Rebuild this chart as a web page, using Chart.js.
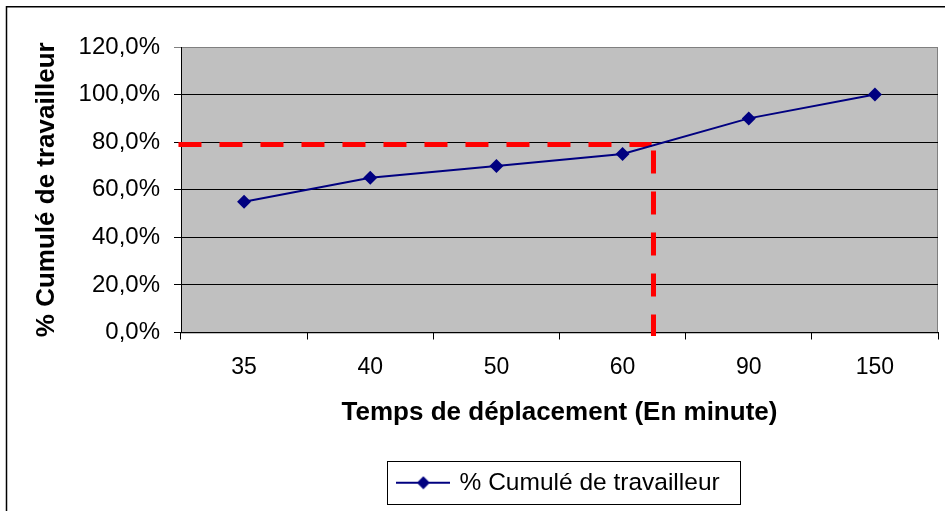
<!DOCTYPE html>
<html><head><meta charset="utf-8">
<script src="https://cdn.jsdelivr.net/npm/chart.js@4/dist/chart.umd.min.js"></script>
<style>html,body{margin:0;padding:0;background:#fff}#wrap{width:945px;height:511px}</style>
</head><body><div id="wrap"><canvas id="c" width="945" height="511"></canvas></div>
<script>
// ---- data ----
const categories = ['35', '40', '50', '60', '90', '150'];
const cumulativePct = [55, 65, 70, 75, 90, 100];
const yTickValues = [0, 20, 40, 60, 80, 100, 120];
const seriesLabel = '% Cumulé de travailleur';
const xAxisTitle = 'Temps de déplacement (En minute)';
const yAxisTitle = '% Cumulé de travailleur';
// red dashed reference lines (x in category units, y in %)
const refHorizontalX = [-0.52, 3.23];
const refHorizontalY = [79, 79];
const refVerticalX = [3.245, 3.245];
const refVerticalY = [76.5, -1.5];

const NAVY = '#000080';
const FONT = "'Liberation Sans', Arial, sans-serif";

// legend symbol: line with diamond
const sym = document.createElement('canvas');
sym.width = 54; sym.height = 14;
(function(){
  const g = sym.getContext('2d');
  g.strokeStyle = NAVY; g.lineWidth = 2;
  g.beginPath(); g.moveTo(0, 7); g.lineTo(54, 7); g.stroke();
  g.fillStyle = NAVY;
  g.beginPath(); g.moveTo(27, 0.5); g.lineTo(33.5, 7); g.lineTo(27, 13.5); g.lineTo(20.5, 7); g.closePath(); g.fill();
})();

const bgPlugin = {
  id: 'bg',
  beforeDraw(chart) {
    const ctx = chart.ctx, a = chart.chartArea;
    ctx.save();
    ctx.fillStyle = '#fff';
    ctx.fillRect(0, 0, chart.width, chart.height);
    ctx.strokeStyle = '#000'; ctx.lineWidth = 1.5;
    ctx.strokeRect(6.5, 6.75, chart.width + 10, chart.height + 10);
    ctx.fillStyle = '#C0C0C0';
    ctx.fillRect(a.left, a.top, a.right - a.left, a.bottom - a.top);
    ctx.strokeStyle = '#808080'; ctx.lineWidth = 1;
    ctx.strokeRect(a.left + 0.5, a.top + 0.5, a.right - a.left - 1, a.bottom - a.top);
    ctx.restore();
  },
  afterDraw(chart) {
    const hb = chart.legend && chart.legend.legendHitBoxes && chart.legend.legendHitBoxes[0];
    if (!hb) return;
    const ctx = chart.ctx;
    ctx.save();
    ctx.strokeStyle = '#000'; ctx.lineWidth = 1;
    const cy = hb.top + hb.height / 2;
    ctx.strokeRect(Math.round(hb.left - 12) + 0.5, Math.round(cy - 21.5) + 0.5, Math.round(hb.width + 33), 43);
    ctx.restore();
  }
};

new Chart(document.getElementById('c'), {
  type: 'line',
  data: {
    labels: categories,
    datasets: [
      {
        label: seriesLabel,
        data: cumulativePct,
        xAxisID: 'x', yAxisID: 'y',
        borderColor: NAVY, backgroundColor: NAVY,
        borderWidth: 2, tension: 0,
        pointStyle: 'rectRot', pointRadius: 7, pointBackgroundColor: NAVY, pointBorderColor: NAVY, pointBorderWidth: 0,
        order: 0
      },
      {
        label: 'refH',
        data: refHorizontalX.map((x, i) => ({x, y: refHorizontalY[i]})),
        xAxisID: 'xl', yAxisID: 'y',
        borderColor: '#FF0000', borderWidth: 5, borderDash: [23, 18], borderCapStyle: 'butt',
        pointRadius: 0, clip: false, order: 1
      },
      {
        label: 'refV',
        data: refVerticalX.map((x, i) => ({x, y: refVerticalY[i]})),
        xAxisID: 'xl', yAxisID: 'y',
        borderColor: '#FF0000', borderWidth: 5, borderDash: [23, 18], borderCapStyle: 'butt',
        pointRadius: 0, clip: false, order: 1
      }
    ]
  },
  options: {
    responsive: false, animation: false, devicePixelRatio: 1,
    layout: { padding: { top: 47, right: 7, left: 0, bottom: 6 } },
    plugins: {
      tooltip: { enabled: false },
      legend: {
        position: 'bottom', fullSize: false,
        labels: {
          filter: item => item.datasetIndex === 0,
          usePointStyle: true, pointStyle: sym, pointStyleWidth: 48,
          font: { family: FONT, size: 24.5 }, color: '#000', padding: 10
        }
      }
    },
    scales: {
      x: {
        type: 'category', offset: true,
        grid: { offset: true, drawOnChartArea: false, drawTicks: true, tickLength: 7, color: '#000' },
        border: { color: '#000', width: 1 },
        ticks: { font: { family: FONT, size: 23 }, color: '#000', padding: 14, maxRotation: 0 },
        title: { display: true, text: xAxisTitle, color: '#000', font: { family: FONT, size: 26, weight: 'bold' }, padding: { top: 0, bottom: 32 } },
        afterFit: s => { s.height = 128; }
      },
      xl: { type: 'linear', axis: 'x', min: -0.5, max: 5.5, display: false },
      y: {
        min: 0, max: 120,
        afterBuildTicks: s => { s.ticks = yTickValues.map(v => ({ value: v })); },
        grid: { color: c => (c.tick && c.tick.value === 120 ? '#808080' : '#000'), tickLength: 7, drawTicks: true },
        border: { color: '#000', width: 1 },
        ticks: {
          font: { family: FONT, size: 24 }, color: '#000', padding: 14,
          callback: v => v.toFixed(1).replace('.', ',') + '%'
        },
        title: { display: true, text: yAxisTitle, color: '#000', font: { family: FONT, size: 26, weight: 'bold' }, padding: { top: 31, bottom: 0 } },
        afterFit: s => { s.width = 181; }
      }
    }
  },
  plugins: [bgPlugin]
});
</script></body></html>
